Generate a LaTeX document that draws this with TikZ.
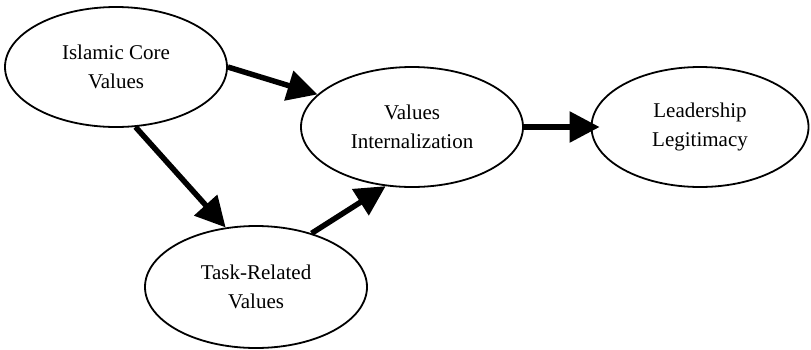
\documentclass[tikz,border=0pt]{standalone}
\usepackage{fontspec}
\setmainfont{Liberation Serif}
\usetikzlibrary{arrows.meta,shapes.geometric}
\begin{document}
\begin{tikzpicture}[x=1pt,y=-1pt,
  ell/.style={draw, ellipse, line width=1.8pt, minimum width=222pt, minimum height=120pt,
    inner sep=0pt, align=center, font=\fontsize{21}{28.5}\selectfont},
  conn/.style={line width=5.5pt, -{Triangle[length=30pt,width=30pt]}}]
\useasboundingbox (0,0) rectangle (811,349);
\node[ell] (I) at (116,67) {Islamic Core\\Values};
\node[ell] (VI) at (412,127) {Values\\Internalization};
\node[ell, minimum width=217pt] (L) at (700,127) {Leadership\\Legitimacy};
\node[ell, minimum height=122pt] (T) at (256,287) {Task-Related\\Values};
\draw[conn] (I.east) -- (VI.161);
\draw[conn] (I.-72) -- (T.117);
\draw[conn] (T.44) -- (VI.246);
\draw[conn, shorten >=-9pt] (VI.east) -- (L.west);
\end{tikzpicture}
\end{document}
